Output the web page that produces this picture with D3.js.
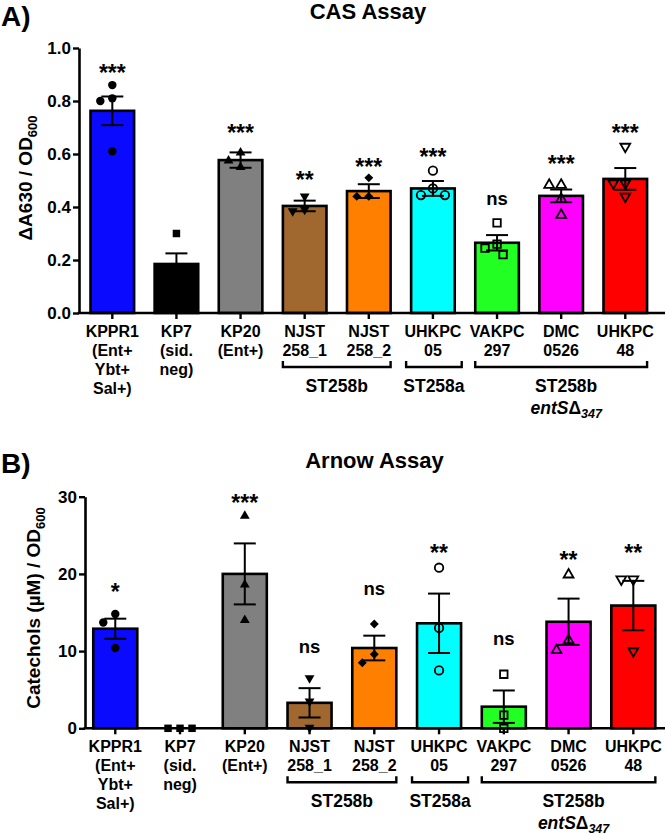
<!DOCTYPE html>
<html><head><meta charset="utf-8">
<script src="https://cdn.jsdelivr.net/npm/d3@7"></script>
<style>
body{margin:0;background:#fff}
svg{display:block;background:#fff}
text{font-family:"Liberation Sans",Arial,Helvetica,sans-serif;font-weight:bold;fill:#000}
</style>
</head><body>
<svg id="chart" width="666" height="836"></svg>
<script>
// ---------------- DATA ----------------
const categories = ["KPPR1","KP7","KP20","NJST258_1","NJST258_2","UHKPC05","VAKPC297","DMC0526","UHKPC48"];
const labelLines = [
  ["KPPR1","(Ent+","Ybt+","Sal+)"],
  ["KP7","(sid.","neg)"],
  ["KP20","(Ent+)"],
  ["NJST","258_1"],
  ["NJST","258_2"],
  ["UHKPC","05"],
  ["VAKPC","297"],
  ["DMC","0526"],
  ["UHKPC","48"]
];
const groups = [
  {label:"ST258b", from:3, to:4, sub:false},
  {label:"ST258a", from:5, to:5, sub:false},
  {label:"ST258b", from:6, to:8, sub:true}
];

// Panel A: CAS assay (ΔA630 / OD600)
const casMeans  = [0.763, 0.185, 0.577, 0.404, 0.460, 0.470, 0.265, 0.442, 0.506];
const casSem    = [0.054, 0.040, 0.029, 0.020, 0.026, 0.028, 0.029, 0.024, 0.041];
const casPoints = [
  [0.86, 0.81, 0.80, 0.61],
  [0.30, 0.17, 0.15, 0.12],
  [0.605, 0.575, 0.55],
  [0.44, 0.39, 0.385],
  [0.51, 0.44, 0.44],
  [0.537, 0.47, 0.445, 0.445],
  [0.34, 0.26, 0.245, 0.22],
  [0.483, 0.483, 0.43, 0.37],
  [0.628, 0.49, 0.49, 0.44]
];
const casSig      = ["***", "", "***", "**", "***", "***", "ns", "***", "***"];
const casSigLevel = [0.925, 0, 0.699, 0.521, 0.570, 0.609, 0.424, 0.584, 0.699];
const casTicks    = [0, 0.2, 0.4, 0.6, 0.8, 1.0];

// Panel B: Arnow assay (catechols µM / OD600)
const arnowMeans  = [12.9, 0, 20.0, 3.3, 10.4, 13.6, 2.8, 13.8, 15.9];
const arnowSem    = [1.3, 0, 3.95, 1.9, 1.6, 3.85, 2.1, 3.0, 3.2];
const arnowPoints = [
  [14.8, 13.7, 10.4],
  [0, 0, 0],
  [27.5, 18.6, 14.0],
  [6.5, 3.5, 0.1],
  [13.5, 9.6, 8.5],
  [20.8, 13.0, 7.5],
  [7.0, 1.7, 0.0],
  [19.9, 11.4, 10.1],
  [19.3, 19.3, 10.0]
];
const arnowSig      = ["*", "", "***", "ns", "ns", "**", "ns", "**", "**"];
const arnowSigLevel = [18.3, 0, 29.9, 10.4, 17.9, 23.4, 11.35, 22.5, 23.4];
const arnowTicks    = [0, 10, 20, 30];

// ---------------- STYLE ----------------
const barColors = ["#0a0aff","#000000","#808080","#a0682f","#ff8000","#00ffff","#22ff22","#ff00ff","#ff0000"];
const markerTypes = ["circle","square","triangle","triangleDown","diamond","circleOpen","squareOpen","triangleOpen","triangleDownOpen"];

const svg = d3.select("#chart");
svg.append("rect").attr("width",666).attr("height",836).attr("fill","#fff");

function markerPath(type){
  const base = type.replace("Open","");
  let sym, size;
  if(base==="circle"){sym=d3.symbolCircle;size=56;}
  else if(base==="square"){sym=d3.symbolSquare;size=56;}
  else if(base==="diamond"){sym=d3.symbolSquare;size=40;}
  else {sym=d3.symbolTriangle;size=42;}
  return d3.symbol(sym,size)();
}
function markerTransform(type,x,y){
  const base = type.replace("Open","");
  if(base==="diamond") return `translate(${x},${y}) rotate(45)`;
  if(base==="triangleDown") return `translate(${x},${y}) rotate(180)`;
  return `translate(${x},${y})`;
}

function drawPanel(cfg){
  const g = svg.append("g");
  const x = d3.scaleBand().domain(categories).range(cfg.bandRange).paddingInner(0.32).paddingOuter(0.16);
  const y = d3.scaleLinear().domain([0, cfg.yMax]).range([cfg.yBottom, cfg.yTop]);

  // bars
  g.selectAll("rect.bar").data(categories).enter().append("rect")
    .attr("x", d=>x(d)).attr("width", x.bandwidth())
    .attr("y", (d,i)=>y(cfg.means[i]))
    .attr("height", (d,i)=>y(0)-y(cfg.means[i]))
    .attr("fill", (d,i)=>barColors[i])
    .attr("stroke","#000").attr("stroke-width",2.6);

  // error bars
  categories.forEach((c,i)=>{
    const cx = x(c)+x.bandwidth()/2;
    const m = cfg.means[i], s = cfg.sems[i];
    if(s<=0) return;
    const y1 = y(m+s), y0 = y(Math.max(0,m-s));
    const eb = g.append("g").attr("stroke","#000").attr("stroke-width",2);
    eb.append("line").attr("x1",cx).attr("x2",cx).attr("y1",y1).attr("y2",y0);
    eb.append("line").attr("x1",cx-11).attr("x2",cx+11).attr("y1",y1).attr("y2",y1);
    eb.append("line").attr("x1",cx-11).attr("x2",cx+11).attr("y1",y0).attr("y2",y0);
  });

  // points (simple swarm to avoid overlap)
  categories.forEach((c,i)=>{
    const cx = x(c)+x.bandwidth()/2;
    const type = markerTypes[i];
    const open = type.endsWith("Open");
    const pts = cfg.points[i].map(v=>({v, py:y(v)})).sort((a,b)=>a.py-b.py);
    const placed = [];
    const offs = [0,-6,6,-12,12,-18,18];
    pts.forEach(p=>{
      let chosen = 0;
      for(const o of offs){
        if(placed.every(q=>Math.hypot(q.dx-o, q.py-p.py) >= 12)){chosen=o;break;}
      }
      p.dx = chosen; placed.push(p);
    });
    g.selectAll(null).data(pts).enter().append("path")
      .attr("d", markerPath(type))
      .attr("transform", p=>markerTransform(type, cx+p.dx, p.py))
      .attr("fill", open ? "none" : "#000")
      .attr("stroke", open ? "#000" : "none")
      .attr("stroke-width", 1.8);
  });

  // y axis
  const ya = g.append("g").attr("transform",`translate(${cfg.axisX},0)`)
    .call(d3.axisLeft(y).tickValues(cfg.ticks).tickFormat(cfg.fmt).tickSize(6).tickSizeOuter(0).tickPadding(2));
  ya.select(".domain").attr("stroke","#000").attr("stroke-width",2.6);
  ya.selectAll(".tick line").attr("stroke","#000").attr("stroke-width",2.4);
  ya.selectAll(".tick text").style("font-size","17px").style("font-weight","bold")
    .style("font-family",'"Liberation Sans",Arial,sans-serif').attr("fill","#000");

  // x axis (ticks) + custom baseline
  const xa = g.append("g").attr("transform",`translate(0,${cfg.yBottom})`)
    .call(d3.axisBottom(x).tickSize(6).tickFormat(""));
  xa.select(".domain").remove();
  xa.selectAll(".tick line").attr("stroke","#000").attr("stroke-width",2.4);
  g.append("line").attr("x1",cfg.axisX-1.3).attr("x2",cfg.xEnd)
    .attr("y1",cfg.yBottom).attr("y2",cfg.yBottom)
    .attr("stroke","#000").attr("stroke-width",2.6);

  // multi-line category labels
  categories.forEach((c,i)=>{
    const cx = x(c)+x.bandwidth()/2;
    const t = g.append("text").attr("text-anchor","middle").style("font-size","16px");
    labelLines[i].forEach((ln,k)=>{
      t.append("tspan").attr("x",cx).attr("y",cfg.yBottom+24+k*19).text(ln);
    });
  });

  // group brackets
  groups.forEach(gr=>{
    let x0 = x(categories[gr.from]), x1 = x(categories[gr.to])+x.bandwidth();
    if(gr.from===gr.to){x0-=5;x1+=7;}
    const by = cfg.yBottom+54;
    g.append("path").attr("d",`M${x0},${by-6}V${by}H${x1}V${by-6}`)
      .attr("fill","none").attr("stroke","#000").attr("stroke-width",2.4);
    const mx = (x0+x1)/2 + (gr.sub?5:0);
    g.append("text").attr("x",mx).attr("y",cfg.yBottom+79).attr("text-anchor","middle")
      .style("font-size","17.5px").text(gr.label);
    if(gr.sub){
      const t = g.append("text").attr("x",mx).attr("y",cfg.yBottom+101).attr("text-anchor","middle")
        .style("font-size","17.5px");
      t.append("tspan").style("font-style","italic").text("entS");
      t.append("tspan").text("Δ");
      t.append("tspan").style("font-style","italic").style("font-size","12.5px").attr("dy",4).text("347");
    }
  });

  // significance labels
  categories.forEach((c,i)=>{
    const lab = cfg.sig[i]; if(!lab) return;
    const cx = x(c)+x.bandwidth()/2;
    const fs = lab==="ns" ? 18.5 : 23;
    const yc = y(cfg.sigLevel[i]);
    const base = lab==="ns" ? yc + 0.26*fs : yc + 0.58*fs;
    g.append("text").attr("x",cx).attr("y",base).attr("text-anchor","middle")
      .style("font-size",fs+"px").text(lab);
  });

  // title, letter, y title
  g.append("text").attr("x",cfg.titleX).attr("y",cfg.titleY).attr("text-anchor","middle")
    .style("font-size","22px").text(cfg.title);
  g.append("text").attr("x",1).attr("y",cfg.letterY).style("font-size","28px").text(cfg.letter);
  const yt = g.append("text").attr("transform",`translate(${cfg.yTitleX},${cfg.yTitleY}) rotate(-90)`)
    .attr("text-anchor","middle").style("font-size","19px");
  yt.append("tspan").text(cfg.yTitle);
  yt.append("tspan").style("font-size","13px").attr("dy",5).text("600");
}

drawPanel({
  means:casMeans, sems:casSem, points:casPoints, sig:casSig, sigLevel:casSigLevel,
  ticks:casTicks, fmt:d3.format(".1f"), yMax:1.0,
  yTop:48, yBottom:313, axisX:79, bandRange:[80.25,657.35], xEnd:665,
  title:"CAS Assay", titleX:368, titleY:19, letter:"A)", letterY:26,
  yTitle:"ΔA630 / OD", yTitleX:32, yTitleY:178
});
drawPanel({
  means:arnowMeans, sems:arnowSem, points:arnowPoints, sig:arnowSig, sigLevel:arnowSigLevel,
  ticks:arnowTicks, fmt:d3.format("d"), yMax:30,
  yTop:496.7, yBottom:728.3, axisX:85, bandRange:[82.9,665.7], xEnd:665,
  title:"Arnow Assay", titleX:374.5, titleY:468, letter:"B)", letterY:473,
  yTitle:"Catechols (µM) / OD", yTitleX:40, yTitleY:608
});
</script>
</body></html>
